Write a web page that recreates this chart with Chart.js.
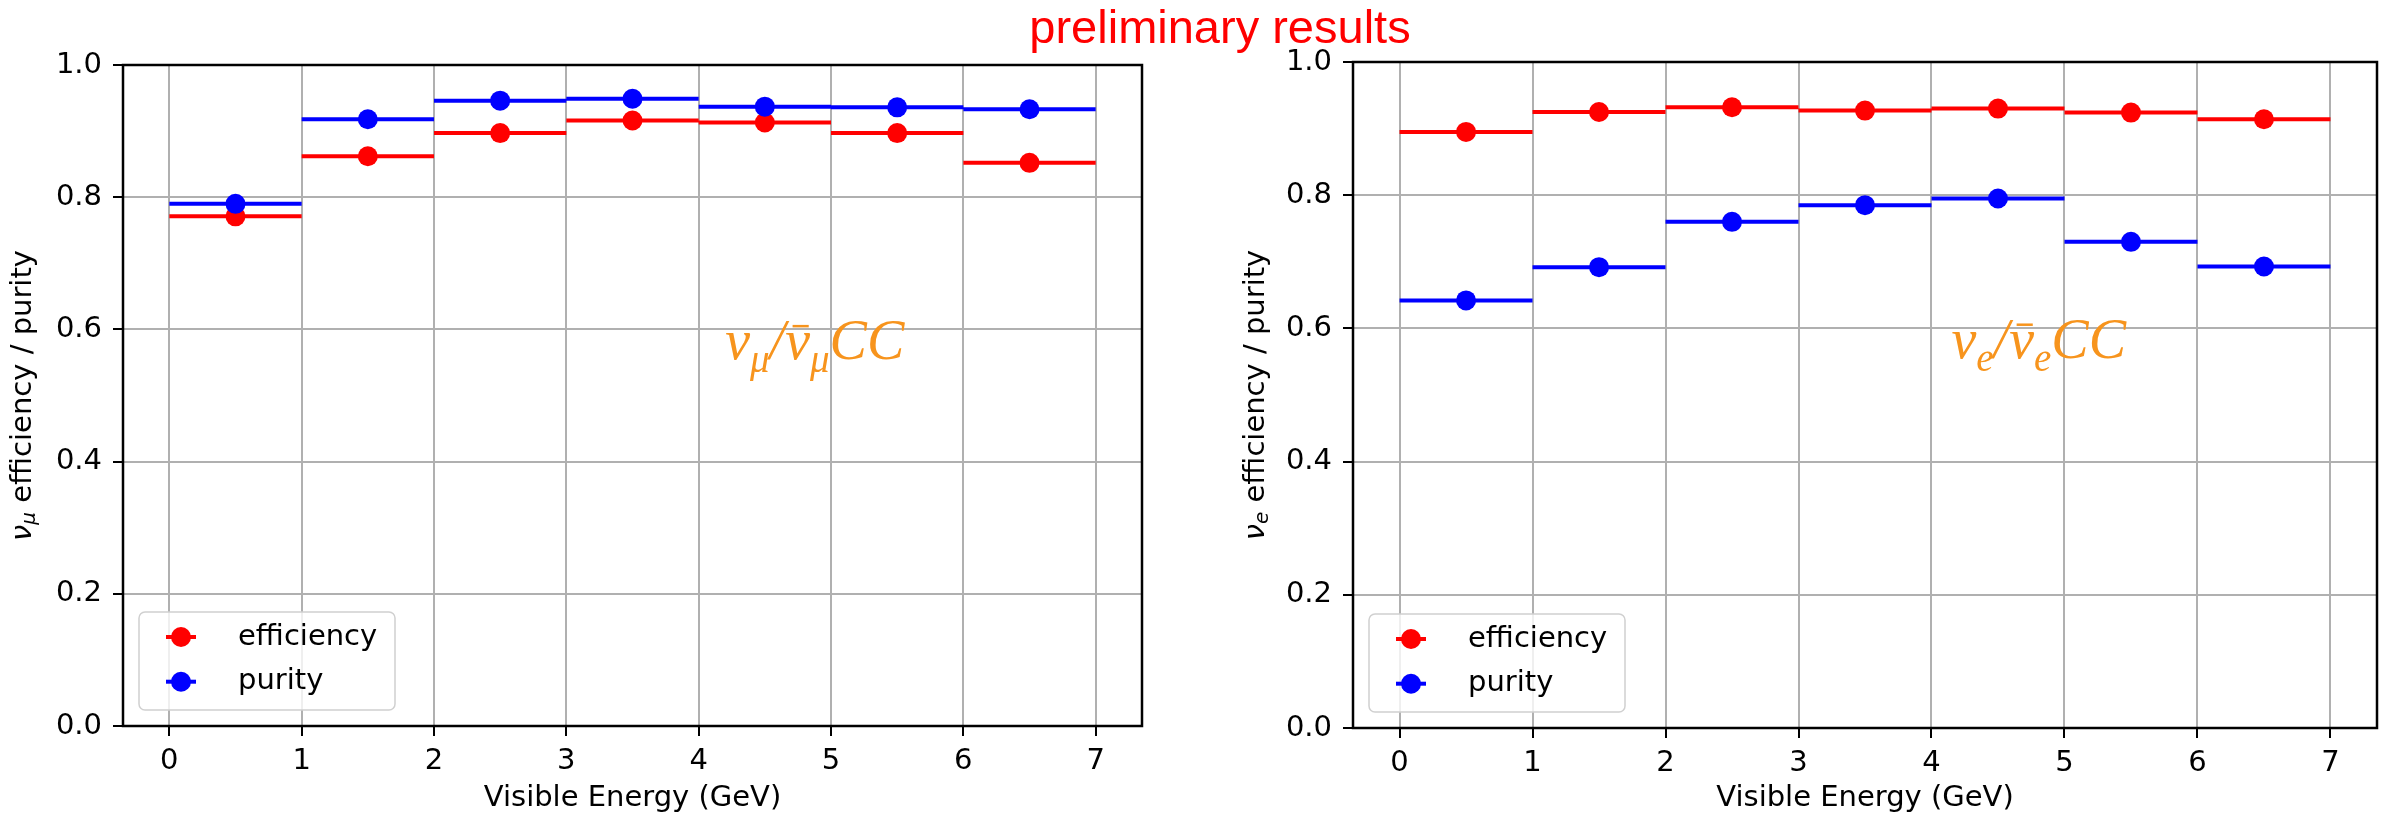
<!DOCTYPE html>
<html>
<head>
<meta charset="utf-8">
<script src="https://cdn.jsdelivr.net/npm/chart.js@4.4.1/dist/chart.umd.min.js"></script>
<style>
  html, body { margin: 0; padding: 0; background: #fff; overflow: hidden; }
  #page { position: relative; width: 2395px; height: 822px; }
  canvas { position: absolute; top: 0; }
  #title {
    position: absolute; left: 1000px; top: 3px; width: 440px; text-align: center;
    font: 47px "Liberation Sans", Arial, sans-serif; line-height: 47px;
    color: #ff0000; white-space: nowrap;
  }
</style>
</head>
<body>
<div id="page">
  <canvas id="numuChart" width="1197" height="822" style="left:0"></canvas>
  <canvas id="nueChart" width="1198" height="822" style="left:1197px"></canvas>
  <div id="title">preliminary results</div>
</div>
<script>
// bins in visible energy (GeV)
const binEdges = [0, 1, 2, 3, 4, 5, 6, 7];

// nu_mu / nu_mu-bar CC selection
const numuEfficiency = [0.771, 0.862, 0.897, 0.916, 0.913, 0.897, 0.852];
const numuPurity = [0.790, 0.918, 0.946, 0.949, 0.937, 0.936, 0.933];

// nu_e / nu_e-bar CC selection
const nueEfficiency = [0.895, 0.925, 0.932, 0.927, 0.930, 0.924, 0.914];
const nuePurity = [0.642, 0.692, 0.760, 0.785, 0.795, 0.730, 0.693];

const xTicks = [0, 1, 2, 3, 4, 5, 6, 7];
const yTicks = [0, 0.2, 0.4, 0.6, 0.8, 1.0];
const seriesLabels = ["efficiency", "purity"];
const seriesColors = ["#ff0000", "#0000ff"];
const xTitle = "Visible Energy (GeV)";

const FONT = '"DejaVu Sans", Verdana, sans-serif';
const SERIF = '"Liberation Serif", "Times New Roman", serif';

function segmentData(values) {
  const pts = [];
  values.forEach((v, i) => {
    pts.push({ x: binEdges[i], y: v }, { x: binEdges[i + 1], y: v }, { x: binEdges[i + 1], y: null });
  });
  return pts;
}

function centerData(values) {
  return values.map((v, i) => ({ x: (binEdges[i] + binEdges[i + 1]) / 2, y: v }));
}

// draws a run of text pieces (sub/superscripts, over-bars) side by side
function drawRich(ctx, parts, x, y, align) {
  let total = 0;
  parts.forEach((p) => {
    ctx.font = p.font;
    p.w = ctx.measureText(p.t).width;
    total += p.w;
  });
  let cx = align === "center" ? x - total / 2 : x;
  ctx.textAlign = "left";
  parts.forEach((p) => {
    ctx.font = p.font;
    ctx.fillText(p.t, cx, y + (p.dy || 0));
    if (p.bar) {
      ctx.save();
      ctx.strokeStyle = ctx.fillStyle;
      ctx.lineWidth = 2.5;
      ctx.beginPath();
      ctx.moveTo(cx + p.w * 0.3, y - p.bar);
      ctx.lineTo(cx + p.w * 0.95, y - p.bar);
      ctx.stroke();
      ctx.restore();
    }
    cx += p.w;
  });
}

const spines = {
  id: "spines",
  afterDatasetsDraw(chart) {
    const { ctx, chartArea: a } = chart;
    ctx.save();
    ctx.strokeStyle = "#000";
    ctx.lineWidth = 2.5;
    ctx.strokeRect(a.left, a.top, a.right - a.left, a.bottom - a.top);
    ctx.restore();
  },
};

const richText = {
  id: "richText",
  afterDraw(chart, args, opts) {
    const { ctx, chartArea: a, scales } = chart;
    ctx.save();
    // y axis label, rotated
    ctx.translate(opts.yLabelX, (a.top + a.bottom) / 2);
    ctx.rotate(-Math.PI / 2);
    ctx.fillStyle = "#000";
    ctx.textBaseline = "middle";
    drawRich(ctx, opts.yLabel, 0, 0, "center");
    ctx.restore();
    // channel annotation
    ctx.save();
    ctx.fillStyle = opts.noteColor;
    ctx.textBaseline = "alphabetic";
    drawRich(ctx, opts.note, scales.x.getPixelForValue(opts.noteAt[0]), scales.y.getPixelForValue(opts.noteAt[1]), "left");
    ctx.restore();
  },
};

const legendBox = {
  id: "legendBox",
  afterDraw(chart) {
    const { ctx, chartArea: a } = chart;
    const w = 256, h = 98;
    const left = a.left + 16, top = a.bottom - 16 - h;
    ctx.save();
    ctx.beginPath();
    ctx.roundRect(left, top, w, h, 6);
    ctx.fillStyle = "rgba(255,255,255,0.8)";
    ctx.fill();
    ctx.strokeStyle = "#d0d0d0";
    ctx.lineWidth = 1.5;
    ctx.stroke();
    seriesLabels.forEach((label, i) => {
      const y = top + 25 + i * 44.7;
      const mx = left + 42;
      ctx.strokeStyle = seriesColors[i];
      ctx.fillStyle = seriesColors[i];
      ctx.lineWidth = 4;
      ctx.beginPath();
      ctx.moveTo(mx - 15, y);
      ctx.lineTo(mx + 15, y);
      ctx.stroke();
      ctx.beginPath();
      ctx.arc(mx, y, 10, 0, Math.PI * 2);
      ctx.fill();
      ctx.fillStyle = "#000";
      ctx.font = "29px " + FONT;
      ctx.textBaseline = "middle";
      ctx.textAlign = "left";
      ctx.fillText(label, left + 99, y);
    });
    ctx.restore();
  },
};

function buildChart(canvasId, efficiency, purity, geo) {
  const values = [efficiency, purity];
  const datasets = [];
  values.forEach((vals, i) => {
    datasets.push({
      type: "line",
      label: seriesLabels[i],
      data: segmentData(vals),
      borderColor: seriesColors[i],
      borderWidth: 4,
      borderCapStyle: "butt",
      pointRadius: 0,
      spanGaps: false,
      order: 3 - i * 2,
    });
    datasets.push({
      type: "scatter",
      label: seriesLabels[i],
      data: centerData(vals),
      backgroundColor: seriesColors[i],
      pointRadius: 10,
      pointBorderWidth: 0,
      order: 2 - i * 2,
    });
  });

  return new Chart(document.getElementById(canvasId), {
    type: "scatter",
    data: { datasets },
    options: {
      responsive: false,
      animation: false,
      devicePixelRatio: 1,
      events: [],
      layout: { padding: { left: 0, top: geo.top, right: geo.right, bottom: 0 } },
      plugins: {
        legend: { display: false },
        tooltip: { enabled: false },
        richText: geo.text,
      },
      scales: {
        x: {
          type: "linear",
          min: -0.35,
          max: 7.35,
          afterBuildTicks: (s) => { s.ticks = xTicks.map((v) => ({ value: v })); },
          afterFit: (s) => { s.height = geo.xAxisHeight; },
          grid: { color: "#b0b0b0", lineWidth: 2, tickColor: "#000", tickWidth: 2, tickLength: 10 },
          border: { display: false },
          ticks: { color: "#000", font: { family: FONT, size: 29 }, padding: 8, maxRotation: 0 },
          title: {
            display: true,
            text: xTitle,
            color: "#000",
            font: { family: FONT, size: 29 },
            padding: { top: 0, bottom: 6 },
          },
        },
        y: {
          type: "linear",
          min: 0,
          max: 1,
          afterBuildTicks: (s) => { s.ticks = yTicks.map((v) => ({ value: v })); },
          afterFit: (s) => { s.width = geo.yAxisWidth; },
          grid: { color: "#b0b0b0", lineWidth: 2, tickColor: "#000", tickWidth: 2, tickLength: 10 },
          border: { display: false },
          ticks: {
            color: "#000",
            font: { family: FONT, size: 29 },
            padding: 11,
            callback: (v) => Number(v).toFixed(1),
          },
        },
      },
    },
    plugins: [spines, richText, legendBox],
  });
}

const sub = (t) => ({ t, font: "italic 20px " + FONT, dy: 7 });
const noteMain = (t) => ({ t, font: "italic 56px " + SERIF });
const noteBar = (t) => ({ t, font: "italic 56px " + SERIF, bar: 33 });
const noteSub = (t) => ({ t, font: "italic 39px " + SERIF, dy: 13 });

buildChart("numuChart", numuEfficiency, numuPurity, {
  top: 65,
  right: 55,
  xAxisHeight: 96,
  yAxisWidth: 123,
  text: {
    yLabelX: 23,
    yLabel: [{ t: "\u03bd", font: "italic 29px " + FONT }, sub("\u03bc"), { t: " efficiency / purity", font: "29px " + FONT }],
    note: [noteMain("\u03bd"), noteSub("\u03bc"), noteMain("/"), noteBar("\u03bd"), noteSub("\u03bc"), noteMain("CC")],
    noteAt: [4.2, 0.555],
    noteColor: "#f7941d",
  },
});

buildChart("nueChart", nueEfficiency, nuePurity, {
  top: 62,
  right: 18,
  xAxisHeight: 94,
  yAxisWidth: 156,
  text: {
    yLabelX: 59,
    yLabel: [{ t: "\u03bd", font: "italic 29px " + FONT }, sub("e"), { t: " efficiency / purity", font: "29px " + FONT }],
    note: [noteMain("\u03bd"), noteSub("e"), noteMain("/"), noteBar("\u03bd"), noteSub("e"), noteMain("CC")],
    noteAt: [4.15, 0.556],
    noteColor: "#f7941d",
  },
});
</script>
</body>
</html>
